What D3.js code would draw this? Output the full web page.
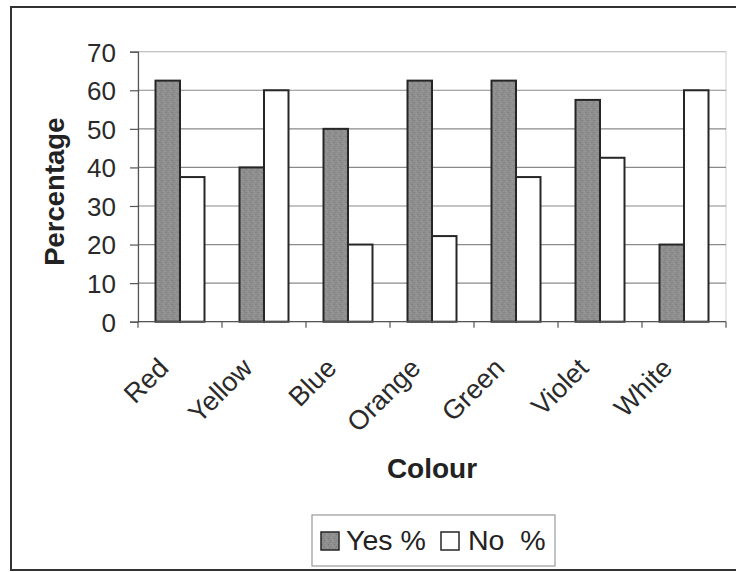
<!DOCTYPE html>
<html>
<head>
<meta charset="utf-8">
<script src="https://cdn.jsdelivr.net/npm/d3@7"></script>
<style>
  html, body { margin: 0; padding: 0; background: #fff; }
  svg { display: block; font-family: "Liberation Sans", Arial, sans-serif; }
</style>
</head>
<body>
<svg id="chart" width="736" height="572"></svg>
<script>
const categories = ["Red", "Yellow", "Blue", "Orange", "Green", "Violet", "White"];
const yesValues = [62.5, 40, 50, 62.5, 62.5, 57.5, 20];
const noValues = [37.5, 60, 20, 22.2, 37.5, 42.5, 60];
const seriesNames = ["Yes %", "No  %"];
const yTicks = [0, 10, 20, 30, 40, 50, 60, 70];

const svg = d3.select("#chart");
const plot = { left: 138, right: 726, top: 51.7, bottom: 321.7 };

// texture for gray bars
const defs = svg.append("defs");
const pat = defs.append("pattern").attr("id", "grain")
  .attr("patternUnits", "userSpaceOnUse").attr("width", 6).attr("height", 6);
pat.append("rect").attr("width", 6).attr("height", 6).attr("fill", "#8e8e8e");
[[0,0,"#7a7a7a"],[3,1,"#a0a0a0"],[1,3,"#9a9a9a"],[4,4,"#787878"],[2,5,"#a4a4a4"],[5,2,"#828282"]]
  .forEach(([x,y,c]) => pat.append("rect").attr("x", x).attr("y", y).attr("width", 1).attr("height", 1).attr("fill", c));

// outer frame
svg.append("rect").attr("x", 11).attr("y", 7).attr("width", 740).attr("height", 563)
  .attr("fill", "none").attr("stroke", "#333").attr("stroke-width", 2);

const x0 = d3.scaleBand().domain(categories).range([plot.left, plot.right])
  .paddingInner(0.4167).paddingOuter(0.2083);
const x1 = d3.scaleBand().domain([0, 1]).range([0, x0.bandwidth()]);
const y = d3.scaleLinear().domain([0, 70]).range([plot.bottom, plot.top]);

// plot area border (faint)
svg.append("rect").attr("x", plot.left).attr("y", plot.top)
  .attr("width", plot.right - plot.left).attr("height", plot.bottom - plot.top)
  .attr("fill", "none").attr("stroke", "#cfcfcf").attr("stroke-width", 1);

// gridlines
svg.append("g").selectAll("line").data(yTicks.filter(d => d > 0)).join("line")
  .attr("x1", plot.left).attr("x2", plot.right)
  .attr("y1", d => y(d)).attr("y2", d => y(d))
  .attr("stroke", d => d === 70 ? "#c4c4c4" : "#8a8a8a").attr("stroke-width", 1.2);

// bars
const rows = categories.map((c, i) => ({ c, vals: [yesValues[i], noValues[i]] }));
const groups = svg.append("g").selectAll("g").data(rows).join("g")
  .attr("transform", d => `translate(${x0(d.c)},0)`);
groups.selectAll("rect").data(d => d.vals.map((v, k) => ({ v, k }))).join("rect")
  .attr("x", d => x1(d.k)).attr("width", x1.bandwidth())
  .attr("y", d => y(d.v)).attr("height", d => y(0) - y(d.v))
  .attr("fill", d => d.k === 0 ? "url(#grain)" : "#fff")
  .attr("stroke", "#262626").attr("stroke-width", 2);

// y axis
const yAxis = d3.axisLeft(y).tickValues(yTicks).tickSize(8).tickPadding(14);
const gy = svg.append("g").attr("transform", `translate(${plot.left},0)`).call(yAxis);
gy.select(".domain").attr("stroke", "#555").attr("stroke-width", 1.2);
gy.selectAll(".tick line").attr("stroke", "#555").attr("stroke-width", 1.2);
gy.selectAll(".tick text").attr("font-size", 26).attr("fill", "#2a2a2a")
  .attr("font-family", "Liberation Sans, Arial, sans-serif").attr("dy", "0.36em");

// x axis
const step = x0.step();
const xAxisG = svg.append("g").attr("transform", `translate(0,${plot.bottom})`);
xAxisG.append("line").attr("x1", plot.left).attr("x2", plot.right)
  .attr("stroke", "#555").attr("stroke-width", 1.2);
const boundaries = categories.map(c => x0(c) - step * x0.paddingInner() / 2)
  .concat([plot.right]);
xAxisG.selectAll("line.tk").data(boundaries).join("line").attr("class", "tk")
  .attr("x1", d => d).attr("x2", d => d).attr("y1", 0).attr("y2", 6)
  .attr("stroke", "#555").attr("stroke-width", 1.2);
xAxisG.selectAll("text").data(categories).join("text")
  .attr("transform", c => `translate(${x0(c) + x0.bandwidth() / 2 - 10},48) rotate(-45)`)
  .attr("text-anchor", "end").attr("font-size", 27).attr("fill", "#2a2a2a")
  .text(c => c);

// axis titles
svg.append("text").attr("transform", `translate(64,${(plot.top + plot.bottom) / 2 + 5}) rotate(-90)`)
  .attr("text-anchor", "middle").attr("font-size", 27.5).attr("font-weight", "bold")
  .attr("fill", "#222").text("Percentage");
svg.append("text").attr("x", (plot.left + plot.right) / 2).attr("y", 478)
  .attr("text-anchor", "middle").attr("font-size", 28).attr("font-weight", "bold")
  .attr("fill", "#222").text("Colour");

// legend
const lg = svg.append("g");
lg.append("rect").attr("x", 312).attr("y", 515).attr("width", 243).attr("height", 51)
  .attr("fill", "#fff").attr("stroke", "#999").attr("stroke-width", 1.2);
const legendItems = [
  { name: seriesNames[0], fill: "url(#grain)", x: 321, tx: 346 },
  { name: seriesNames[1], fill: "#fff", x: 441, tx: 468 }
];
lg.selectAll("rect.sw").data(legendItems).join("rect").attr("class", "sw")
  .attr("x", d => d.x).attr("y", 532).attr("width", 18).attr("height", 18)
  .attr("fill", d => d.fill).attr("stroke", "#262626").attr("stroke-width", 1.5);
lg.selectAll("text").data(legendItems).join("text")
  .attr("x", d => d.tx).attr("y", 550).attr("font-size", 28.5).attr("fill", "#222")
  .attr("xml:space", "preserve").style("white-space", "pre")
  .text(d => d.name);
</script>
</body>
</html>
